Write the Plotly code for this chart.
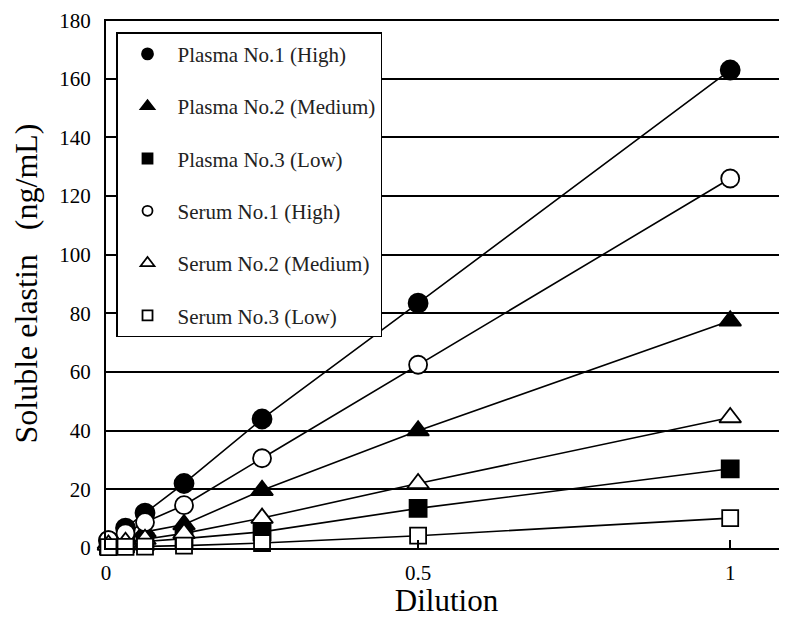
import plotly.graph_objects as go

dilution = [1/256, 1/32, 1/16, 1/8, 1/4, 1/2, 1]

plasma1 = [2.5, 6.8, 11.9, 22.0, 44.0, 83.5, 163.0]
plasma2 = [1.5, 3.5, 5.5, 8.0, 19.7, 40.0, 77.5]
plasma3 = [0.8, 1.5, 2.2, 3.2, 5.5, 13.5, 27.0]
serum1 = [2.7, 5.0, 8.8, 14.6, 30.6, 62.5, 126.0]
serum2 = [1.0, 2.0, 3.0, 5.0, 10.2, 22.0, 44.5]
serum3 = [0.3, 0.4, 0.5, 0.8, 1.7, 4.2, 10.2]

names = ["Plasma No.1 (High)", "Plasma No.2 (Medium)", "Plasma No.3 (Low)",
         "Serum No.1 (High)", "Serum No.2 (Medium)", "Serum No.3 (Low)"]
series = [plasma1, plasma2, plasma3, serum1, serum2, serum3]
symbols = ["circle", "triangle-up", "square", "circle", "triangle-up", "square"]
filled_flags = [True, True, True, False, False, False]
sizes = [19, 19, 17, 18, 19, 16]
legend_sizes = [11, 12, 10, 10, 12, 10]
y_ticks = [0, 20, 40, 60, 80, 100, 120, 140, 160, 180]
y_max = 180

fig = go.Figure()
for i in range(len(names)):
    fill = "black" if filled_flags[i] else "white"
    fig.add_trace(go.Scatter(
        x=dilution, y=series[i], name=names[i], mode="lines+markers",
        showlegend=False,
        line=dict(color="black", width=1.6),
        marker=dict(symbol=symbols[i], size=sizes[i], color=fill,
                    line=dict(color="black", width=1.8)),
        cliponaxis=False,
    ))
for i in range(len(names)):
    fill = "black" if filled_flags[i] else "white"
    fig.add_trace(go.Scatter(
        x=[None], y=[None], name=names[i], mode="markers",
        legendgroup=f"g{i}",
        marker=dict(symbol=symbols[i], size=legend_sizes[i], color=fill,
                    line=dict(color="black", width=1.8)),
    ))

# top boundary line at the last y tick
fig.add_shape(type="line", xref="paper", x0=0, x1=1, yref="y", y0=y_max, y1=y_max,
              line=dict(color="black", width=1.8), layer="below")

# page has an 8px body margin, so the figure is offset by (8, 8)
fig.update_layout(
    width=779, height=610,
    margin=dict(l=98, r=0, t=11, b=70),
    paper_bgcolor="white", plot_bgcolor="white",
    font=dict(family="Liberation Serif", color="black", size=21),
    showlegend=True,
    legend=dict(
        x=0.0147, y=0.975, xanchor="left", yanchor="top",
        bgcolor="white", bordercolor="black", borderwidth=1.5,
        font=dict(family="Liberation Serif", size=21, color="#222"),
        tracegroupgap=22, itemwidth=50,
    ),
    xaxis=dict(
        range=[0, 1.091], tickvals=[0, 0.5, 1], ticktext=["0", "0.5", "1"],
        showgrid=False, zeroline=False, automargin=False,
        showline=True, linecolor="black", linewidth=2,
        ticks="inside", ticklen=8, tickwidth=1.5, tickcolor="black",
        ticklabelstandoff=5,
        title=dict(text="Dilution", font=dict(size=31), standoff=9),
        tickfont=dict(size=21),
    ),
    yaxis=dict(
        range=[0, y_max + 0.4], tickvals=y_ticks,
        showgrid=True, gridcolor="black", gridwidth=1.5, automargin=False,
        zeroline=False, showline=True, linecolor="black", linewidth=2,
        ticks="", ticklabelstandoff=9,
        title=dict(text="Soluble elastin\u00a0\u00a0\u00a0(ng/mL)", font=dict(size=32), standoff=14),
        tickfont=dict(size=21),
    ),
)

fig.write_html("out.html")
